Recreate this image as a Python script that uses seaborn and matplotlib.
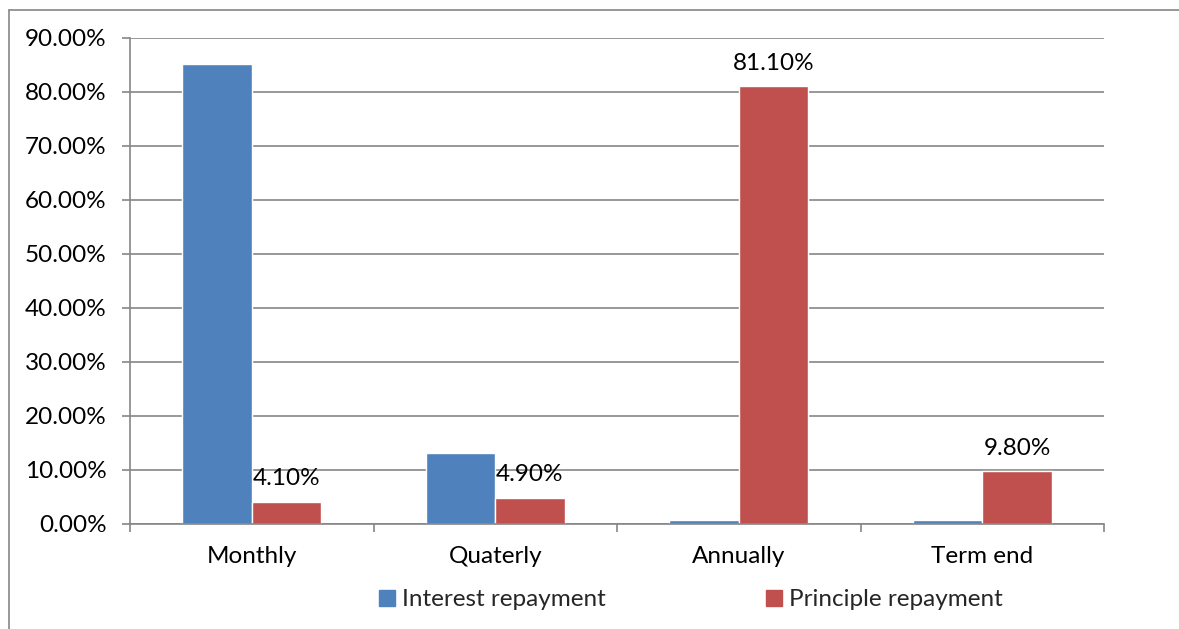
import matplotlib
matplotlib.use("Agg")
import matplotlib.pyplot as plt
from matplotlib.lines import Line2D
from matplotlib.ticker import FuncFormatter, FixedLocator
import seaborn as sns
import pandas as pd

categories = ["Monthly", "Quaterly", "Annually", "Term end"]
interest = [85.2, 13.1, 0.8, 0.8]
principle = [4.10, 4.90, 81.10, 9.80]
series_names = ["Interest repayment", "Principle repayment"]
colors = ["#4F81BD", "#C0504D"]

df = pd.DataFrame({
    "Frequency": categories * 2,
    "Share": interest + principle,
    "Type": [series_names[0]] * len(categories) + [series_names[1]] * len(categories),
})

sns.set_theme(style="white")
plt.rcParams["font.family"] = ["Lato", "DejaVu Sans"]
FS = 17.5

W, H = 1179, 629
fig = plt.figure(figsize=(W / 100, H / 100), dpi=100)
ax = fig.add_axes([130 / W, 1 - 524 / H, (1104 - 130) / W, (524 - 38) / H])

sns.barplot(data=df, x="Frequency", y="Share", hue="Type", palette=colors,
            width=0.57, gap=0, saturation=1, ax=ax, legend=False)

ax.set_ylim(0, 90)
ax.set_xlim(-0.5, len(categories) - 0.5)
ax.set_yticks(range(0, 91, 10))
ax.yaxis.set_major_formatter(FuncFormatter(lambda v, _: f"{v:.2f}%"))
ax.yaxis.grid(True, color="#868686", linewidth=1.2)
ax.set_axisbelow(True)
ax.set_xlabel("")
ax.set_ylabel("")

for s in ["top", "right"]:
    ax.spines[s].set_visible(False)
for s in ["left", "bottom"]:
    ax.spines[s].set_color("#868686")
    ax.spines[s].set_linewidth(1.2)

ax.tick_params(axis="y", which="major", length=6, width=1.2, color="#868686",
               labelsize=FS, pad=11, left=True)
ax.tick_params(axis="x", which="major", length=0, labelsize=FS, pad=16)
ax.xaxis.set_minor_locator(FixedLocator([i - 0.5 for i in range(len(categories) + 1)]))
ax.tick_params(axis="x", which="minor", length=6, width=1.2, color="#868686", bottom=True)
for lbl in ax.get_xticklabels() + ax.get_yticklabels():
    lbl.set_color("black")

# value labels on the principle bars
ax.bar_label(ax.containers[1], labels=[f"{v:.2f}%" for v in principle],
             padding=9, fontsize=FS, color="black")

handles = [plt.Rectangle((0, 0), 1, 1, color=c) for c in colors]
fig.legend(handles, series_names, loc="center left",
           bbox_to_anchor=(379 / W, 1 - 600 / H), ncol=2, frameon=False,
           fontsize=FS, handlelength=0.65, handleheight=0.65, handletextpad=0.3,
           columnspacing=6.6, borderaxespad=0, borderpad=0)

# outer chart frame
fig.add_artist(Line2D([8.5 / W, 8.5 / W], [0, 1 - 10 / H], transform=fig.transFigure,
                      color="#868686", linewidth=1.2))
fig.add_artist(Line2D([8.5 / W, 1], [1 - 10 / H, 1 - 10 / H], transform=fig.transFigure,
                      color="#868686", linewidth=1.2))

fig.savefig("out.png", dpi=100, facecolor="white")
